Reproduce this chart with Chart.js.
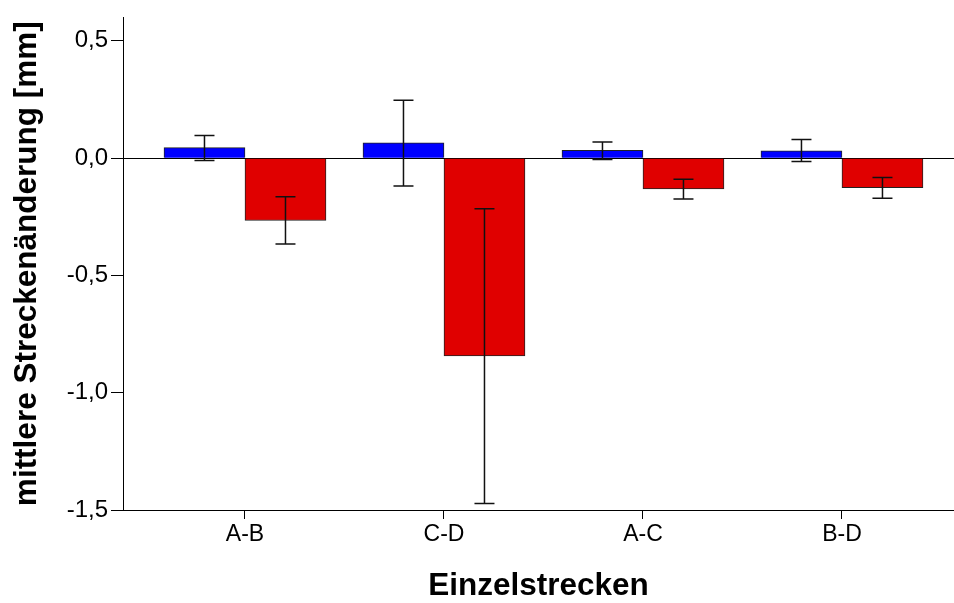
<!DOCTYPE html>
<html>
<head>
<meta charset="utf-8">
<script src="https://cdn.jsdelivr.net/npm/chart.js@4/dist/chart.umd.min.js"></script>
<style>
  body { margin: 0; background: #fff; }
  #wrap { width: 954px; height: 603px; }
</style>
</head>
<body>
<div id="wrap"><canvas id="grafik"></canvas></div>
<script>
const categories = ['A-B', 'C-D', 'A-C', 'B-D'];
const blueValues = [0.045, 0.065, 0.033, 0.031];
const blueHigh = [0.096, 0.247, 0.069, 0.079];
const blueLow = [-0.010, -0.119, -0.006, -0.014];
const redValues = [-0.266, -0.843, -0.131, -0.126];
const redHigh = [-0.165, -0.216, -0.090, -0.082];
const redLow = [-0.366, -1.472, -0.174, -0.171];
const yTicks = [-1.5, -1.0, -0.5, 0, 0.5];

const errorBars = [
    { high: blueHigh, low: blueLow },
    { high: redHigh, low: redLow }
];

// Fehlerbalken ueber die Balken zeichnen
const errorBarPlugin = {
    id: 'errorBars',
    afterDatasetsDraw(chart) {
        const ctx = chart.ctx;
        const yScale = chart.scales.y;
        ctx.save();
        ctx.strokeStyle = '#111';
        ctx.lineWidth = 1.5;
        chart.data.datasets.forEach((ds, d) => {
            const meta = chart.getDatasetMeta(d);
            meta.data.forEach((bar, i) => {
                const x = bar.x;
                const yHi = yScale.getPixelForValue(errorBars[d].high[i]);
                const yLo = yScale.getPixelForValue(errorBars[d].low[i]);
                ctx.beginPath();
                ctx.moveTo(x, yHi);
                ctx.lineTo(x, yLo);
                ctx.moveTo(x - 10, yHi);
                ctx.lineTo(x + 10, yHi);
                ctx.moveTo(x - 10, yLo);
                ctx.lineTo(x + 10, yLo);
                ctx.stroke();
            });
        });
        ctx.restore();
    }
};

const ctx = document.getElementById('grafik').getContext('2d');

new Chart(ctx, {
    type: 'bar',
    data: {
        datasets: [{
                label: 'blau',
                data: blueValues.map((v, i) => ({ x: i, y: v })),
                backgroundColor: '#0000ff',
                borderColor: '#222',
                borderWidth: 1,
                barThickness: 81
            },
            {
                label: 'rot',
                data: redValues.map((v, i) => ({ x: i, y: v })),
                backgroundColor: '#e00000',
                borderColor: '#222',
                borderWidth: 1,
                barThickness: 81
            }
        ]
    },
    options: {
        responsive: true,
        maintainAspectRatio: false,
        animation: false,
        layout: { padding: { top: 12, right: 0, left: 0, bottom: 0 } },
        plugins: {
            legend: { display: false },
            tooltip: { enabled: false }
        },
        scales: {
            x: {
                type: 'linear',
                offset: false,
                min: -0.613,
                max: 3.563,
                afterBuildTicks: axis => {
                    axis.ticks = categories.map((_, i) => ({ value: i }));
                },
                afterFit: axis => { axis.height = 93; },
                border: { display: true, color: '#000', width: 1 },
                grid: { offset: false, drawOnChartArea: false, tickColor: '#000', tickLength: 9 },
                ticks: {
                    color: '#000',
                    padding: 2,
                    font: { family: 'Liberation Sans', size: 23 },
                    callback: v => categories[v]
                },
                title: {
                    display: true,
                    text: 'Einzelstrecken',
                    color: '#000',
                    padding: { top: 0, bottom: 1 },
                    font: { family: 'Liberation Sans', size: 31.5, weight: 'bold', lineHeight: 1 }
                }
            },
            y: {
                min: -1.5,
                max: 0.6,
                afterBuildTicks: axis => {
                    axis.ticks = yTicks.map(v => ({ value: v }));
                },
                afterFit: axis => { axis.width = 123; },
                border: { display: true, color: '#000', width: 1 },
                grid: {
                    color: c => (c.tick && c.tick.value === 0) ? '#000' : 'rgba(0,0,0,0)',
                    tickColor: '#000',
                    tickLength: 12
                },
                ticks: {
                    color: '#000',
                    padding: 3,
                    font: { family: 'Liberation Sans', size: 24 },
                    callback: v => v.toFixed(1).replace('.', ',')
                },
                title: {
                    display: true,
                    text: 'mittlere Streckenänderung [mm]',
                    color: '#000',
                    padding: { top: 8, bottom: 0 },
                    font: { family: 'Liberation Sans', size: 31.5, weight: 'bold', lineHeight: 1.2 }
                }
            }
        }
    },
    plugins: [errorBarPlugin]
});
</script>
</body>
</html>
